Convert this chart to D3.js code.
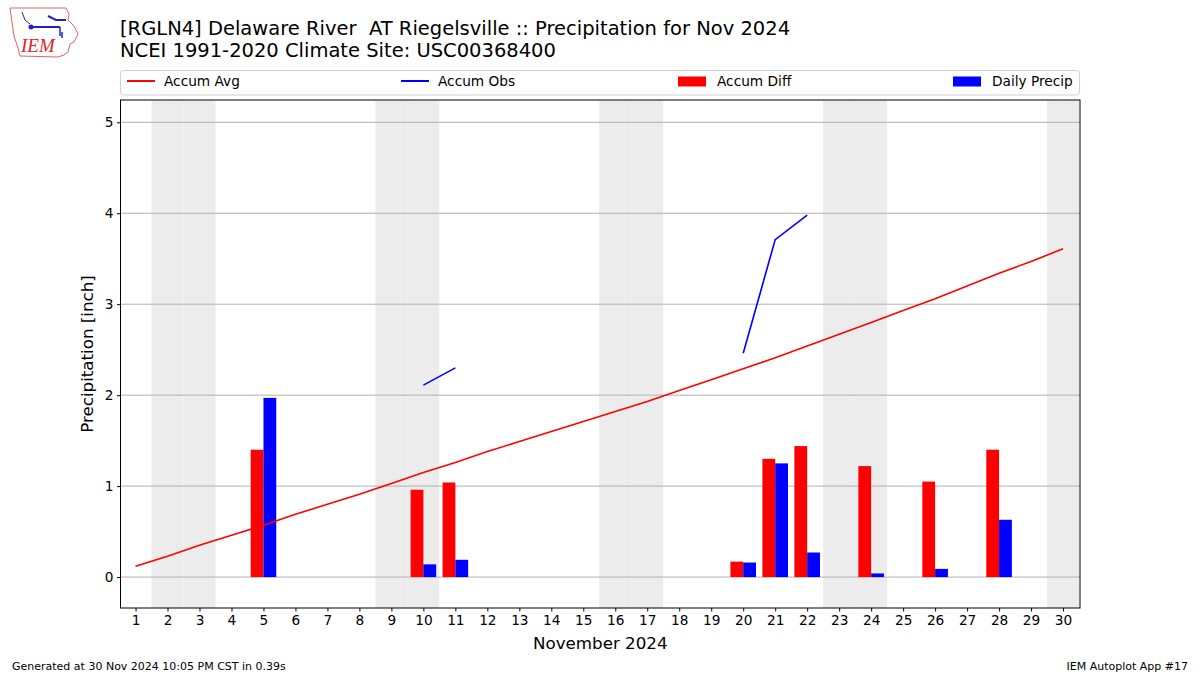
<!DOCTYPE html>
<html><head><meta charset="utf-8">
<script src="https://cdn.jsdelivr.net/npm/d3@7"></script>
<style>body{margin:0;background:#fff}svg{display:block;font-family:"DejaVu Sans",sans-serif}text{white-space:pre}</style>
</head><body><svg id="c" width="1200" height="675"></svg>
<script>
const days = d3.range(1, 31);
const accumAvg = [0.12,0.23,0.35,0.46,0.57,0.69,0.80,0.91,1.03,1.15,1.26,1.38,1.49,1.60,1.71,1.82,1.93,2.05,2.17,2.29,2.41,2.54,2.67,2.80,2.93,3.06,3.20,3.34,3.47,3.61];
// observed accumulation (null where no report)
const accumObs = [null,null,null,null,1.97,null,null,null,null,2.11,2.30,null,null,null,null,null,null,null,null,2.46,3.71,3.98,null,4.02,null,4.11,null,4.74,null,null];
const accumDiff = [null,null,null,null,1.40,null,null,null,null,0.96,1.04,null,null,null,null,null,null,null,null,0.17,1.30,1.44,null,1.22,null,1.05,null,1.40,null,null];
const dailyPrecip = [0,0,0,0,1.97,0,0,0,0,0.14,0.19,0,0,0,0,0,0,0,0,0.16,1.25,0.27,0,0.04,0,0.09,0,0.63,0,0];
const weekendDays = [2,3,9,10,16,17,23,24,30];
const yTicks = [0,1,2,3,4,5];
const titleLines = ["[RGLN4] Delaware River  AT Riegelsville :: Precipitation for Nov 2024","NCEI 1991-2020 Climate Site: USC00368400"];
const legendItems = [{label:"Accum Avg",type:"line",color:"red"},{label:"Accum Obs",type:"line",color:"blue"},{label:"Accum Diff",type:"rect",color:"red"},{label:"Daily Precip",type:"rect",color:"blue"}];

const svg = d3.select("#c");
const L = 120.5, R = 1080, T = 100, B = 608;
const x = d3.scaleLinear().domain([0.53, 30.53]).range([L, R]);
const y = d3.scaleLinear().domain([-0.34, 5.245]).range([B, T]);

// weekend shading
svg.append("g").selectAll("rect").data(weekendDays).join("rect")
  .attr("x", d => Math.max(L, x(d - 0.5))).attr("y", T)
  .attr("width", d => Math.min(R, x(d + 0.5)) - Math.max(L, x(d - 0.5)))
  .attr("height", B - T).attr("fill", "#ececec");

// grid
svg.append("g").selectAll("line").data(yTicks).join("line")
  .attr("x1", L).attr("x2", R).attr("y1", d => y(d)).attr("y2", d => y(d))
  .attr("stroke", "#b0b0b0").attr("stroke-width", 1);

// bars
const bw = x(0.4) - x(0);
svg.append("g").selectAll("rect").data(days.filter((d,i) => accumDiff[i] != null)).join("rect")
  .attr("x", d => x(d - 0.4)).attr("width", bw)
  .attr("y", d => y(Math.max(0, accumDiff[d-1]))).attr("height", d => Math.abs(y(accumDiff[d-1]) - y(0)))
  .attr("fill", "red");
svg.append("g").selectAll("rect").data(days.filter((d,i) => dailyPrecip[i] > 0)).join("rect")
  .attr("x", d => x(d)).attr("width", bw)
  .attr("y", d => y(dailyPrecip[d-1])).attr("height", d => y(0) - y(dailyPrecip[d-1]))
  .attr("fill", "blue");

// lines
const lineAvg = d3.line().x((d,i) => x(days[i])).y(d => y(d));
svg.append("path").attr("d", lineAvg(accumAvg)).attr("fill", "none").attr("stroke", "red").attr("stroke-width", 1.6);
const lineObs = d3.line().defined(d => d != null).x((d,i) => x(days[i])).y(d => y(d));
svg.append("path").attr("d", lineObs(accumObs)).attr("fill", "none").attr("stroke", "blue").attr("stroke-width", 1.6);

// axes frame
svg.append("rect").attr("x", L).attr("y", T).attr("width", R - L).attr("height", B - T)
  .attr("fill", "none").attr("stroke", "#000").attr("stroke-width", 1);

const xAxis = d3.axisBottom(x).tickValues(days).tickSize(3.5).tickPadding(3.5).tickFormat(d3.format("d"));
const gx = svg.append("g").attr("transform", `translate(0,${B})`).call(xAxis);
const yAxis = d3.axisLeft(y).tickValues(yTicks).tickSize(3.5).tickPadding(3.5).tickFormat(d3.format("d"));
const gy = svg.append("g").attr("transform", `translate(${L},0)`).call(yAxis);
[gx, gy].forEach(g => {
  g.select(".domain").remove();
  g.selectAll("text").attr("font-size", 13.7).attr("font-family", "DejaVu Sans").attr("fill", "#000");
  g.selectAll("line").attr("stroke", "#000");
});

svg.append("text").attr("x", (L + R) / 2).attr("y", 649).attr("text-anchor", "middle")
  .attr("font-size", 16.7).text("November 2024");
svg.append("text").attr("transform", `translate(93,${(T + B) / 2}) rotate(-90)`).attr("text-anchor", "middle")
  .attr("font-size", 16.7).text("Precipitation [inch]");

// title
svg.append("g").selectAll("text").data(titleLines).join("text")
  .attr("x", 120).attr("y", (d,i) => 35 + i * 22).attr("font-size", 19.5).text(d => d);

// legend
svg.append("rect").attr("x", 120.5).attr("y", 70.5).attr("width", 959).attr("height", 24.5)
  .attr("rx", 3).attr("fill", "#fff").attr("stroke", "#d0d0d0");
const legX = [127, 401, 678, 953];
const lg = svg.append("g").selectAll("g").data(legendItems).join("g")
  .attr("transform", (d,i) => `translate(${legX[i]},82)`);
lg.each(function(d) {
  const g = d3.select(this);
  if (d.type === "line") g.append("line").attr("x1", 0).attr("x2", 28).attr("y1", -1).attr("y2", -1).attr("stroke", d.color).attr("stroke-width", 2);
  else g.append("rect").attr("x", 0).attr("y", -5.5).attr("width", 28).attr("height", 10).attr("fill", d.color);
  g.append("text").attr("x", d.type === "line" ? 37 : 39).attr("y", 4).attr("font-size", 13.7).text(d.label);
});

// footer
svg.append("text").attr("x", 12).attr("y", 670).attr("font-size", 11).text("Generated at 30 Nov 2024 10:05 PM CST in 0.39s");
svg.append("text").attr("x", 1188).attr("y", 670).attr("text-anchor", "end").attr("font-size", 11).text("IEM Autoplot App #17");

// logo (approximate)
const logo = svg.append("g");
logo.append("path").attr("d", "M10,8 L66,8 L69,14 L68,20 L74,26 L78,34 L74,42 L70,44 L68,52 L64,55 L58,57 L20,56 L18,48 L14,36 L12,22 Z")
  .attr("fill", "none").attr("stroke", "#d66").attr("stroke-width", 1);
logo.append("line").attr("x1", 31).attr("x2", 60).attr("y1", 27).attr("y2", 27).attr("stroke", "#22c").attr("stroke-width", 2);
logo.append("circle").attr("cx", 31).attr("cy", 27).attr("r", 2.5).attr("fill", "#22c");
logo.append("path").attr("d", "M22,12 L25,20 L30,24").attr("fill", "none").attr("stroke", "#22c").attr("stroke-width", 1);
logo.append("path").attr("d", "M48,16 L56,20 L66,20").attr("fill", "none").attr("stroke", "#22c").attr("stroke-width", 2);
logo.append("path").attr("d", "M60,27 L60,36 M62,32 L62,38").attr("fill", "none").attr("stroke", "#22c").attr("stroke-width", 1.5);
logo.append("text").attr("x", 21).attr("y", 52).attr("font-family", "Liberation Serif").attr("font-style", "italic")
  .attr("font-size", 19).attr("fill", "#d22").text("IEM");
</script></body></html>
